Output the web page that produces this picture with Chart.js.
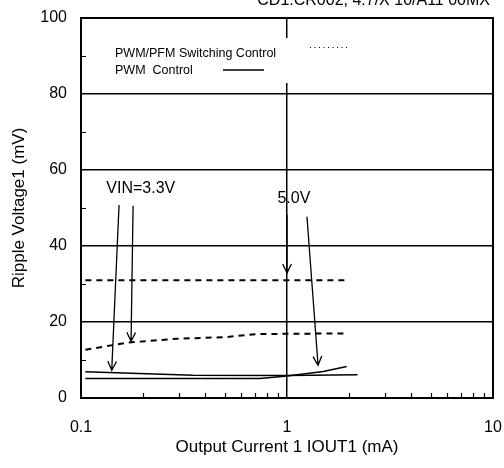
<!DOCTYPE html>
<html>
<head>
<meta charset="utf-8">
<script src="https://cdn.jsdelivr.net/npm/chart.js@4"></script>
<style>
  body { margin:0; background:#fff; }
  #wrap { width:504px; height:468px; }
</style>
</head>
<body>
<div id="wrap"><canvas id="c" width="504" height="468"></canvas></div>
<script>
// ===== DATA =====
const xTickLabels = [0.1, 1, 10];
const yTickLabels = [0, 20, 40, 60, 80, 100];

// dashed, VIN=5.0V (PWM/PFM)
const pfm50I = [0.105, 1.95];
const pfm50V = [31.0, 31.0];
// dashed, VIN=3.3V (PWM/PFM)
const pfm33I = [0.105, 0.17, 0.29, 0.5, 0.7, 1.0, 1.95];
const pfm33V = [12.7, 14.6, 15.6, 16.0, 16.8, 16.9, 17.0];
// solid, VIN=3.3V (PWM)
const pwm33I = [0.105, 0.35, 1.0, 2.2];
const pwm33V = [6.9, 6.0, 5.9, 6.1];
// solid, VIN=5.0V (PWM)
const pwm50I = [0.105, 0.74, 1.0, 1.5, 1.95];
const pwm50V = [5.1, 5.1, 5.8, 7.0, 8.3];

// annotation arrows, in data units: [fromI, fromV, toI, toV]
const arrows = [
  [0.153, 50.8, 0.141, 7.3],
  [0.179, 50.6, 0.175, 14.9],
  [1.0, 48.2, 1.0, 32.9],
  [1.25, 47.7, 1.415, 8.6]
];
const notes = [
  { text: 'VIN=3.3V', i: 0.195, v: 55.0 },
  { text: '5.0V', i: 1.08, v: 52.4 }
];

const FONT = '"Liberation Sans", Arial, sans-serif';
const pts = (xs, ys) => xs.map((x, k) => ({ x, y: ys[k] }));

// ===== custom drawing: frame, inside ticks, legend, arrows =====
const decor = {
  id: 'decor',
  afterDraw(chart) {
    const { ctx, chartArea: a, scales: { x, y } } = chart;
    ctx.save();
    ctx.strokeStyle = '#000';
    ctx.fillStyle = '#000';

    // minor ticks (inside)
    ctx.lineWidth = 1.2;
    ctx.beginPath();
    [0.2,0.3,0.4,0.5,0.6,0.7,0.8,0.9,2,3,4,5,6,7,8,9].forEach(v => {
      const px = Math.round(x.getPixelForValue(v)) + 0.5;
      ctx.moveTo(px, a.bottom); ctx.lineTo(px, a.bottom - 5);
    });
    [10,30,50,70,90].forEach(v => {
      const py = Math.round(y.getPixelForValue(v)) + 0.5;
      ctx.moveTo(a.left, py); ctx.lineTo(a.left + 5, py);
    });
    ctx.stroke();

    // legend box
    ctx.fillStyle = '#fff';
    ctx.fillRect(95, 38, 260, 45);
    ctx.fillStyle = '#000';
    ctx.font = '12.5px ' + FONT;
    ctx.textBaseline = 'alphabetic';
    ctx.textAlign = 'left';
    ctx.fillText('PWM/PFM Switching Control', 115, 57);
    ctx.fillText('PWM  Control', 115, 74);
    ctx.lineWidth = 1;
    ctx.setLineDash([1, 3.5]);
    ctx.beginPath(); ctx.moveTo(310, 47.5); ctx.lineTo(347, 47.5); ctx.stroke();
    ctx.setLineDash([]);
    ctx.lineWidth = 1.5;
    ctx.beginPath(); ctx.moveTo(223, 70); ctx.lineTo(264, 70); ctx.stroke();

    // frame
    ctx.lineWidth = 2;
    ctx.strokeRect(a.left, a.top, a.right - a.left, a.bottom - a.top);

    // arrows
    ctx.lineWidth = 1.3;
    arrows.forEach(([i0, v0, i1, v1]) => {
      const x0 = x.getPixelForValue(i0), y0 = y.getPixelForValue(v0);
      const x1 = x.getPixelForValue(i1), y1 = y.getPixelForValue(v1);
      const ang = Math.atan2(y1 - y0, x1 - x0);
      ctx.beginPath();
      ctx.moveTo(x0, y0); ctx.lineTo(x1, y1);
      ctx.moveTo(x1 - 10 * Math.cos(ang - 0.45), y1 - 10 * Math.sin(ang - 0.45));
      ctx.lineTo(x1, y1);
      ctx.lineTo(x1 - 10 * Math.cos(ang + 0.45), y1 - 10 * Math.sin(ang + 0.45));
      ctx.stroke();
    });

    // notes
    ctx.font = '16px ' + FONT;
    ctx.textAlign = 'center';
    ctx.textBaseline = 'middle';
    notes.forEach(n => ctx.fillText(n.text, x.getPixelForValue(n.i), y.getPixelForValue(n.v)));

    // clipped header line at top
    ctx.font = '16px ' + FONT;
    ctx.textAlign = 'right';
    ctx.textBaseline = 'alphabetic';
    ctx.fillText('CD1:CR002, 4.7/X 10/A11 00MX', 490, 5);
    ctx.restore();
  }
};

const dashed = { borderColor: '#000', borderWidth: 2, borderDash: [6, 5], pointRadius: 0, tension: 0, fill: false };
const solid = { borderColor: '#000', borderWidth: 1.5, pointRadius: 0, tension: 0, fill: false };

new Chart(document.getElementById('c'), {
  type: 'line',
  data: {
    datasets: [
      { ...dashed, label: '5.0V PWM/PFM', data: pts(pfm50I, pfm50V) },
      { ...dashed, label: '3.3V PWM/PFM', data: pts(pfm33I, pfm33V) },
      { ...solid, label: '3.3V PWM', data: pts(pwm33I, pwm33V) },
      { ...solid, label: '5.0V PWM', data: pts(pwm50I, pwm50V) }
    ]
  },
  options: {
    responsive: false,
    animation: false,
    layout: { padding: { top: 18, right: 11, left: 0, bottom: 0 } },
    plugins: { legend: { display: false }, tooltip: { enabled: false } },
    scales: {
      x: {
        type: 'logarithmic',
        min: 0.1, max: 10,
        afterFit: s => { s.height = 70; s.paddingLeft = 0; s.paddingRight = 0; },
        border: { display: false },
        grid: {
          drawTicks: false,
          lineWidth: 1.5,
          color: c => (c.tick && c.tick.value === 1) ? '#000' : 'rgba(0,0,0,0)'
        },
        ticks: {
          autoSkip: false, maxRotation: 0, padding: 20,
          color: '#000', font: { family: FONT, size: 16 },
          callback: v => xTickLabels.includes(v) ? String(v) : ''
        },
        title: {
          display: true, text: 'Output Current 1 IOUT1 (mA)',
          color: '#000', font: { family: FONT, size: 17 },
          padding: { top: 0, bottom: 10 }
        }
      },
      y: {
        min: 0, max: 100,
        afterFit: s => { s.width = 81; s.paddingTop = 0; s.paddingBottom = 0; },
        border: { display: false },
        grid: {
          drawTicks: false,
          lineWidth: 1.5,
          color: c => (c.tick && c.tick.value % 20 === 0 && c.tick.value > 0 && c.tick.value < 100) ? '#000' : 'rgba(0,0,0,0)'
        },
        ticks: {
          stepSize: 10, padding: 14,
          color: '#000', font: { family: FONT, size: 16 },
          callback: v => yTickLabels.includes(v) ? String(v) : ''
        },
        title: {
          display: true, text: 'Ripple Voltage1 (mV)',
          color: '#000', font: { family: FONT, size: 17 },
          padding: { top: 9, bottom: 0 }
        }
      }
    }
  },
  plugins: [decor]
});
</script>
</body>
</html>
